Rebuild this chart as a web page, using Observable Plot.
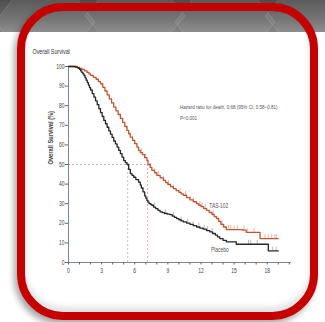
<!DOCTYPE html>
<html><head><meta charset="utf-8">
<script src="https://cdn.jsdelivr.net/npm/d3@7"></script>
<script src="https://cdn.jsdelivr.net/npm/@observablehq/plot@0.6"></script>
<style>
html,body{margin:0;padding:0;background:#fff;width:325px;height:322px;overflow:hidden;}
#wrap{position:relative;width:325px;height:322px;}
#band{position:absolute;left:0;top:0;width:325px;height:32px;background:linear-gradient(#4e4e4e,#6a6a6a 60%,#858585);}
#hex{position:absolute;left:0;top:0;}
#frame{position:absolute;left:17px;top:3px;width:285px;height:301px;border:8px solid #c40000;border-radius:46px;box-shadow:-3px 4px 6px rgba(0,0,0,0.35), inset 0 -5px 6px rgba(0,0,0,0.12);}
#chart{position:absolute;left:0;top:0;}
</style></head>
<body><div id="wrap">
<div id="band"></div>
<svg id="hex" width="325" height="32">
<g fill="#ffffff" fill-opacity="0.08" stroke="#ffffff" stroke-opacity="0.12">
<polygon points="20,-10 70,-10 95,22 70,54 20,54 -5,22"/>
<polygon points="110,-14 160,-14 185,16 160,46 110,46 85,16"/>
<polygon points="200,-10 250,-10 275,22 250,54 200,54 175,22"/>
<polygon points="290,-14 340,-14 365,16 340,46 290,46 265,16"/>
</g></svg>
<div id="frame"></div>
<div id="chart"></div>
</div>
<script>
// Kaplan-Meier: placebo
const placeboTime = [0,0.4,0.6,0.8,0.9,1.0,1.1,1.2,1.3,1.4,1.5,1.6,1.7,1.8,1.9,2.0,2.15,2.3,2.45,2.6,2.75,2.9,3.05,3.2,3.35,3.5,3.65,3.8,3.95,4.1,4.25,4.4,4.55,4.7,4.85,5.0,5.15,5.3,5.45,5.6,5.75,5.9,6.1,6.35,6.5,6.6,6.75,6.9,7.0,7.1,7.2,7.3,7.45,7.55,7.7,7.9,8.1,8.3,8.5,8.7,8.95,9.2,9.4,9.6,9.8,10.0,10.2,10.4,10.7,11.0,11.3,11.6,11.9,12.2,12.5,12.8,13.05,13.3,13.5,13.7,14.0,14.3,15.2,18.1,19.0];
const placeboSurv = [100,100,99.7,99.4,99,98.5,97.8,97,96.2,95.4,94.2,93,91.8,90.5,89.2,88,86.2,84.4,82.5,80.5,78.5,76.5,74.5,72.5,70.8,69,67.2,65.5,63.8,62,60.5,58.9,57.2,55.5,53.8,52,51,50,47.5,45.3,44.5,43.5,42.3,41,39.5,38,36,34,32.8,31.7,30.8,30,29.6,29.2,28.3,27.5,26.6,25.8,25.4,25,24.7,24.4,23.7,23,22.4,21.8,21.2,20.7,20.1,19.5,18.8,18.1,17.5,17,16.3,15.6,14.8,14,13.1,12.2,11.3,10.5,9.3,5.9,5.9];
// Kaplan-Meier: TAS-102
const tasTime = [0,0.5,0.8,1.0,1.2,1.45,1.68,1.85,2.0,2.25,2.5,2.7,2.9,3.1,3.3,3.5,3.7,3.9,4.1,4.3,4.5,4.7,4.9,5.1,5.3,5.45,5.6,5.8,6.0,6.2,6.35,6.5,6.7,6.9,7.1,7.2,7.4,7.55,7.8,8.0,8.3,8.6,8.8,9.0,9.25,9.5,9.75,10.0,10.2,10.4,10.7,11.0,11.3,11.6,11.8,12.0,12.25,12.5,12.75,13.0,13.2,13.4,13.6,13.8,14.05,14.3,15.8,16.1,17.35,19.0];
const tasSurv = [100,100,99.5,99,98.5,97.8,97,96.2,95.5,94.5,93.5,92.3,91.2,89.4,87.5,85.5,83.5,81.4,79.3,77.4,75.5,73.5,71.5,69.4,67.4,65.7,64,62.3,60.6,58.9,57.2,56.1,55,53.5,52.1,50,48.5,47,45.8,44.5,43.2,41.9,40.8,39.8,38.7,37.7,36.7,35.8,35,34.3,33.1,32,31,30,29.2,28.5,27.5,26.6,25.5,24.5,23.4,22.4,21,19.5,18.1,16.8,16.5,15.4,12.2,12.2];
// censoring times
const tasCensor = [6.6,7.0,7.4,7.8,8.16,8.6,9.06,9.5,10.1,10.6,11.0,11.3,11.9,12.1,12.4,13.1,13.6,13.9,14.5,14.7,15.0,15.3,15.9,16.2,16.8,17.8,18.1,18.4,18.7,18.85];
const placeboCensor = [7.8,8.8,9.5,10.2,10.8,11.3,11.8,12.3,12.6,13.0,16.3,16.5,17.1,18.5,18.8];
// medians
const medianPlacebo = 5.36, medianTas = 7.16;
const xTicks = d3.range(0, 21);
const yTicks = d3.range(0, 101, 10);
const labels = [{t:12.75,s:29,text:"TAS-102"},{t:12.9,s:6.5,text:"Placebo"}];
const hrLines = ["Hazard ratio for death, 0.68 (95% CI, 0.58–0.81)","P<0.001"];

const placebo = placeboTime.map((t,i)=>({t, s: placeboSurv[i]}));
const tas = tasTime.map((t,i)=>({t, s: tasSurv[i]}));
function survAt(data, t){ const i = d3.bisectRight(data.map(d=>d.t), t) - 1; return data[Math.max(0,i)].s; }
const tasC = tasCensor.map(t=>({t, s: survAt(tas,t)}));
const plC = placeboCensor.map(t=>({t, s: survAt(placebo,t)}));

const font = "'Liberation Sans','Arial',sans-serif";
const chart = Plot.plot({
  width: 325, height: 322,
  marginLeft: 68, marginRight: 34, marginTop: 66, marginBottom: 60,
  x: {domain: [0, 20.2]},
  y: {domain: [0, 100]},
  style: {background: "transparent", fontFamily: font, color: "#444"},
  marks: [
    Plot.ruleY([50], {x1: 0, x2: 7.1, stroke: "#999", strokeDasharray: "2,2", strokeWidth: 0.7}),
    Plot.ruleX([medianPlacebo], {y1: 0, y2: 50, stroke: "#aaa", strokeDasharray: "2,2", strokeWidth: 0.7}),
    Plot.ruleX([medianTas], {y1: 0, y2: 50, stroke: "#d88a80", strokeDasharray: "2,2", strokeWidth: 0.7}),
    Plot.ruleY([0], {x1: 0, x2: 20.2, stroke: "#666", strokeWidth: 0.8}),
    Plot.ruleX([0], {y1: 0, y2: 100, stroke: "#666", strokeWidth: 0.8}),
    Plot.axisX({ticks: xTicks, tickSize: 2.5, tickPadding: 3, tickFormat: d => d % 3 === 0 ? d : "", fontSize: 6.5, label: null, stroke: "#666"}),
    Plot.axisY({ticks: yTicks, tickSize: 3, tickPadding: 1, fontSize: 6.5, label: null, stroke: "#666"}),
    Plot.ruleX(tasC, {x: "t", y1: "s", y2: d => d.s + 2, stroke: "#d98a72", strokeWidth: 0.6}),
    Plot.ruleX(plC, {x: "t", y1: "s", y2: d => d.s + 2, stroke: "#888", strokeWidth: 0.6}),
    Plot.line(tas, {x: "t", y: "s", curve: "step-after", stroke: "#c4532f", strokeWidth: 1.3}),
    Plot.line(placebo, {x: "t", y: "s", curve: "step-after", stroke: "#262626", strokeWidth: 1.3}),
    Plot.text(labels, {x: "t", y: "s", text: "text", textAnchor: "start", fontSize: 6.5, fill: "#555"}),
    Plot.text([hrLines[0]], {x: 10.1, y: 79.1, textAnchor: "start", fontSize: 6, fill: "#555"}),
    Plot.text([hrLines[1]], {x: 10.1, y: 73.8, textAnchor: "start", fontSize: 6, fill: "#555"}),
    Plot.text(["Overall Survival (%)"], {frameAnchor: "left", rotate: -90, dx: -18, fontSize: 7.5, fontWeight: "bold", fill: "#444"}),
    Plot.text(["Overall Survival"], {frameAnchor: "top-left", dx: -36, dy: -17, fontSize: 7, fill: "#333"})
  ]
});
document.getElementById("chart").appendChild(chart);
// condensed look: compress glyph widths
chart.querySelectorAll("text").forEach(t => {
  const len = t.getComputedTextLength();
  if (len > 0) { t.setAttribute("textLength", (len * 0.76).toFixed(1)); t.setAttribute("lengthAdjust", "spacingAndGlyphs"); }
});
</script>
</body></html>
